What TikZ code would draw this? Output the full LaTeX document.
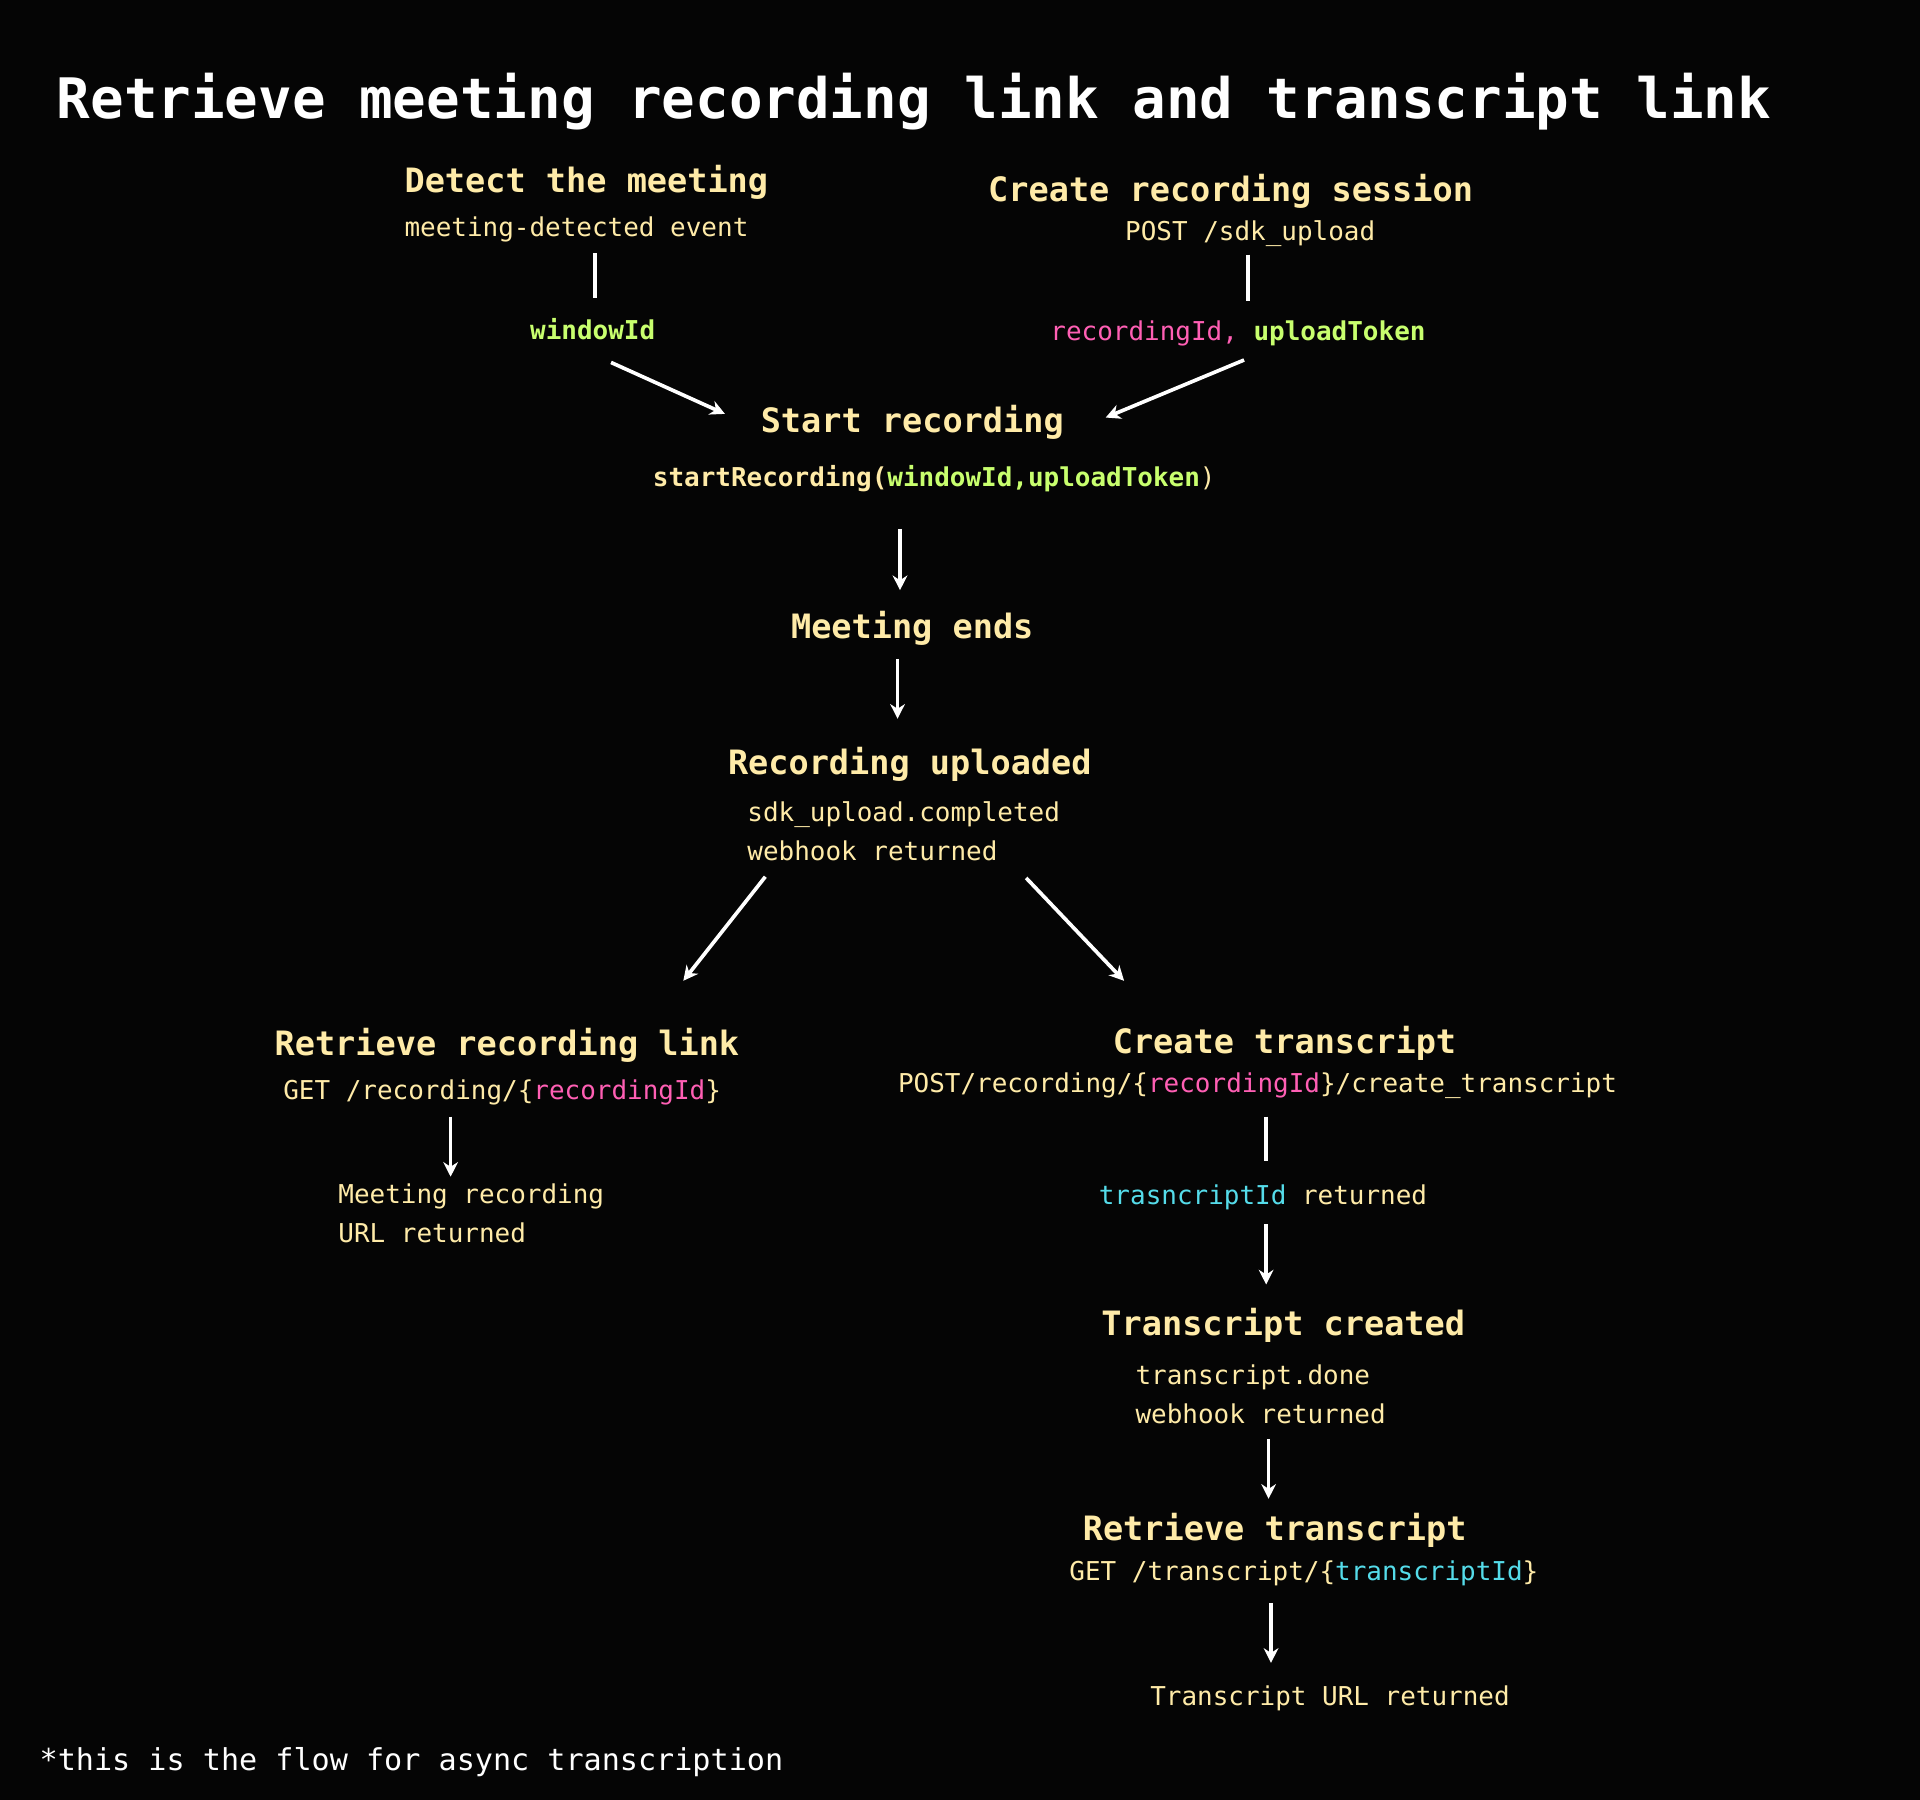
\documentclass[tikz,border=0pt]{standalone}
\usepackage{fontspec}
\setmonofont{DejaVu Sans Mono}
\usetikzlibrary{arrows.meta}
\definecolor{bg}{HTML}{050505}
\definecolor{cream}{HTML}{FFEBA8}
\definecolor{grn}{HTML}{C8FF6E}
\definecolor{pnk}{HTML}{FF5FB4}
\definecolor{cyn}{HTML}{55DCEA}
\begin{document}
\begin{tikzpicture}[x=0.5pt,y=-0.5pt,
  every node/.style={inner sep=0pt,text=cream,font=\ttfamily},
  head/.style={font=\ttfamily\bfseries\fontsize{13.7}{16}\selectfont},
  sub/.style={font=\ttfamily\fontsize{10.6}{15}\selectfont},
  conn/.style={white,line width=1.5pt},
  arr/.style={conn,-{Stealth[length=6pt,width=6pt]}}]
\fill[bg] (0,0) rectangle (1568,1470);
\useasboundingbox (0,0) rectangle (1568,1470);
\node[anchor=west,text=white,font=\ttfamily\bfseries\fontsize{22.8}{26}\selectfont] (title) at (46,83) {Retrieve meeting recording link and transcript link};
\node[head,anchor=west] (det) at (330,149) {Detect the meeting};
\node[sub,anchor=west] (detS) at (330,187) {meeting-detected event};
\node[sub,font=\ttfamily\bfseries\fontsize{10.6}{15}\selectfont,text=grn] (win) at (484,269) {windowId};
\node[head] (crs) at (1005,156) {Create recording session};
\node[sub] (crsS) at (1021,191) {POST /sdk\_upload};
\node[sub] (rid) at (1011,272) {\textcolor{pnk}{recordingId,} \textcolor{grn}{\bfseries uploadToken}};
\node[head] (start) at (745,345) {Start recording};
\node[sub,font=\ttfamily\bfseries\fontsize{10.6}{15}\selectfont] (startS) at (763,391) {startRecording(\textcolor{grn}{windowId,uploadToken}\textmd{)}};
\node[head] (ends) at (745,513) {Meeting ends};
\node[head] (upl) at (743,624) {Recording uploaded};
\node[sub,anchor=west] (upl1) at (610,665) {sdk\_upload.completed};
\node[sub,anchor=west] (upl2) at (610,695) {webhook returned};
\node[head] (rrl) at (414,854) {Retrieve recording link};
\node[sub,anchor=west] (rrlS) at (231,892) {GET /recording/\{\textcolor{pnk}{recordingId}\}};
\node[sub,anchor=west] (mr1) at (276,977) {Meeting recording};
\node[sub,anchor=west] (mr2) at (276,1007) {URL returned};
\node[head] (ct) at (1049,852) {Create transcript};
\node[sub,anchor=west] (ctS) at (733,887) {POST/recording/\{\textcolor{pnk}{recordingId}\}/create\_transcript};
\node[sub,anchor=west] (tid) at (897,978) {\textcolor{cyn}{trasncriptId} returned};
\node[head] (tc) at (1048,1082) {Transcript created};
\node[sub,anchor=west] (tc1) at (927,1125) {transcript.done};
\node[sub,anchor=west] (tc2) at (927,1155) {webhook returned};
\node[head] (rt) at (1041,1250) {Retrieve transcript};
\node[sub,anchor=west] (rtS) at (873,1285) {GET /transcript/\{\textcolor{cyn}{transcriptId}\}};
\node[sub,anchor=west] (tu) at (939,1387) {Transcript URL returned};
\node[anchor=west,text=white,font=\ttfamily\fontsize{12.3}{15}\selectfont] (foot) at (32,1439) {*this is the flow for async transcription};
\coordinate (a1) at (486,207); \coordinate (a2) at (486,243);
\coordinate (b1) at (499,296); \coordinate (b2) at (592,338);
\coordinate (c1) at (1019,208); \coordinate (c2) at (1019,246);
\coordinate (d1) at (1016,294); \coordinate (d2) at (903,341);
\coordinate (e1) at (735,432); \coordinate (e2) at (735,482);
\coordinate (f1) at (733,538); \coordinate (f2) at (733,587);
\coordinate (g1) at (625,716); \coordinate (g2) at (558,801);
\coordinate (h1) at (838,717); \coordinate (h2) at (918,801);
\coordinate (i1) at (368,912); \coordinate (i2) at (368,961);
\coordinate (j1) at (1034,912); \coordinate (j2) at (1034,948);
\coordinate (k1) at (1034,1000); \coordinate (k2) at (1034,1049);
\coordinate (l1) at (1036,1175); \coordinate (l2) at (1036,1224);
\coordinate (m1) at (1038,1309); \coordinate (m2) at (1038,1358);
\draw[conn] (a1) -- (a2);
\draw[conn] (c1) -- (c2);
\draw[conn] (j1) -- (j2);
\foreach \p in {b,d,e,f,g,h,i,k,l,m} \draw[arr] (\p1) -- (\p2);
\end{tikzpicture}
\end{document}
